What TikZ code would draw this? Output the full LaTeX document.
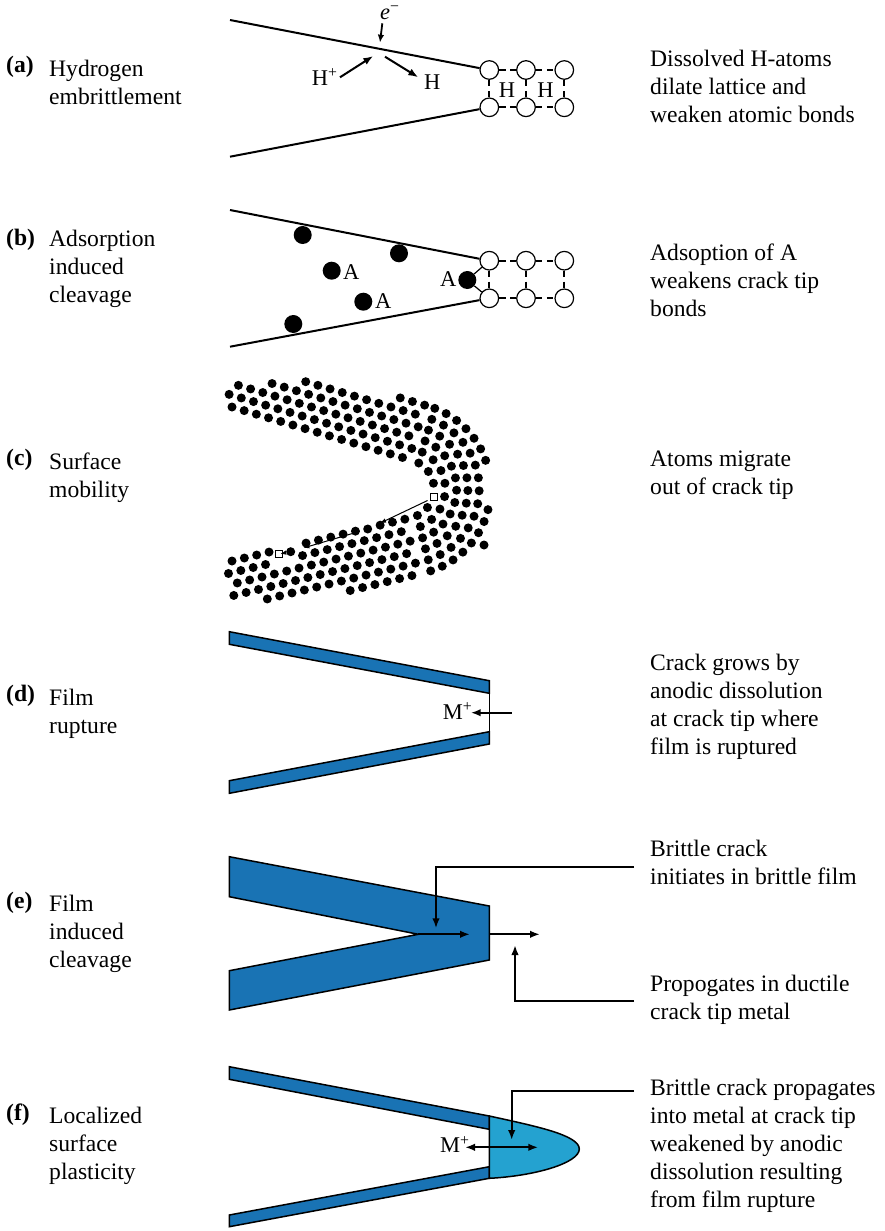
\documentclass[tikz,border=0pt]{standalone}
\usepackage{fontspec}
\setmainfont{Liberation Serif}
\usetikzlibrary{arrows.meta}
\definecolor{filmblue}{RGB}{25,115,180}
\definecolor{zoneblue}{RGB}{36,162,208}
% left-aligned block of lines whose reference point is the first baseline
\newcommand{\txtblock}[1]{\begin{tabular}[t]{@{}l@{}}#1\end{tabular}}
% one atom of the lattice, kept only inside the metal band and away from the marked sites
\newcommand{\placeatom}[2]{%
  \pgfmathsetmacro\atomok{(inband(#1,#2)>=0)*(veclen(#1-434.3,#2-497.3)>8)*(veclen(#1-367.7,#2-529)>9)*(veclen(#1-290.7,#2-551.7)>8)*(veclen(#1-279.3,#2-554)>8)}%
  \ifdim\atomok pt>0.5pt\relax \fill (#1,#2) circle[radius=4.5pt];\fi}
\begin{document}
\begin{tikzpicture}[x=1pt,y=-1pt,
  every node/.style={inner sep=0pt},
  body/.style={font=\fontsize{23.6}{28}\selectfont, anchor=base west},
  tag/.style={font=\fontsize{23.6}{28}\selectfont\bfseries, anchor=base west},
  lbl/.style={font=\fontsize{22.5}{27}\selectfont, anchor=base west},
  crack/.style={line width=2pt},
  lattice/.style={circle, draw, line width=1.2pt, fill=white, minimum size=18.6pt},
  bond/.style={line width=2pt, dash pattern=on 6.5pt off 4.5pt},
  adsorbate/.style={circle, fill=black, minimum size=18pt},
  adatom/.style={circle, fill=black, minimum size=9pt},
  vacancy/.style={rectangle, draw, fill=white, line width=1pt, minimum size=7pt},
  arr/.style={line width=2pt, -{Latex[length=10pt,width=7.5pt]}},
  smallarr/.style={line width=1.8pt, -{Latex[length=8pt,width=6.5pt]}},
  thinarr/.style={line width=1pt, -{Latex[length=6pt,width=4.5pt]}},
  film/.style={fill=filmblue, draw=black, line width=1.5pt, line join=miter},
  nose/.style={fill=zoneblue, draw=black, line width=1.5pt},
  declare function={inband(\xx,\yy)=min(
    0.55*(\yy-383)+0.05*(\xx-228),
    1.01*(\yy-378)-0.16*(\xx-283),
    0.52*(\yy-394)-0.10*(\xx-384),
    0.32*(\yy-404)-0.16*(\xx-436),
    0.18*(\yy-420)-0.12*(\xx-468),
    0.03*(\yy-432)-0.28*(\xx-486),
    -0.01*(\yy-460)-0.61*(\xx-489),
    -0.02*(\yy-521)-0.27*(\xx-488),
    -0.18*(\yy-548)-0.12*(\xx-486),
    -0.31*(\yy-560)-0.15*(\xx-468),
    -0.52*(\yy-575)-0.10*(\xx-437),
    -1.02*(\yy-585)-0.17*(\xx-385),
    -0.55*(\yy-602)+0.04*(\xx-283),
    2.15*(\xx-228));}
]
\useasboundingbox (0,0) rectangle (884,1231);

% ---------------- (a) Hydrogen embrittlement ----------------
\node[tag] (tagA) at (6,72) {(a)};
\node[body] (nameA) at (49,76.7) {\txtblock{Hydrogen\\embrittlement}};
\node[body] (noteA) at (650,66.7) {\txtblock{Dissolved H-atoms\\dilate lattice and\\weaken atomic bonds}};
\node[lattice] (a1) at (489.3,70) {};
\node[lattice] (a2) at (526,70) {};
\node[lattice] (a3) at (564.3,70) {};
\node[lattice] (a4) at (489.3,107.3) {};
\node[lattice] (a5) at (526,107.3) {};
\node[lattice] (a6) at (564.3,107.3) {};
\coordinate (aUpper) at (230,20);
\coordinate (aLower) at (230,156.7);
\draw[crack] (aUpper) -- (a1);
\draw[crack] (aLower) -- (a4);
\foreach \p/\q in {a1/a2,a2/a3,a4/a5,a5/a6,a1/a4,a2/a5,a3/a6}
  \draw[bond] (\p) -- (\q);
\node[lbl, anchor=base] (hInA) at (507,97.3) {H};
\node[lbl, anchor=base] (hInB) at (545.5,97.3) {H};
\node[lbl] (eMinus) at (380,19.5) {\textit{e}\textsuperscript{\char"2212}};
\node[lbl] (hIon) at (311.7,85) {H\textsuperscript{+}};
\node[lbl] (hAtom) at (424,89.3) {H};
\coordinate (eTail) at (382.3,23.3);
\coordinate (eHead) at (380,42.7);
\coordinate (hpTail) at (340,77.3);
\coordinate (hpHead) at (373.3,56);
\coordinate (hTail) at (385,56.7);
\coordinate (hHead) at (418.3,77.3);
\draw[smallarr] (eTail) -- (eHead);
\draw[arr] (hpTail) -- (hpHead);
\draw[arr] (hTail) -- (hHead);

% ---------------- (b) Adsorption induced cleavage ----------------
\node[tag] (tagB) at (6,245) {(b)};
\node[body] (nameB) at (49,246.7) {\txtblock{Adsorption\\induced\\cleavage}};
\node[body] (noteB) at (650,260) {\txtblock{Adsoption of A\\weakens crack tip\\bonds}};
\node[lattice] (b1) at (489.3,260.7) {};
\node[lattice] (b2) at (526,260.7) {};
\node[lattice] (b3) at (564.3,260.7) {};
\node[lattice] (b4) at (489.3,298.3) {};
\node[lattice] (b5) at (526,298.3) {};
\node[lattice] (b6) at (564.3,298.3) {};
\coordinate (bUpper) at (230,210);
\coordinate (bLower) at (230,346.7);
\draw[crack] (bUpper) -- (b1);
\draw[crack] (bLower) -- (b4);
\foreach \p/\q in {b1/b2,b2/b3,b4/b5,b5/b6,b1/b4,b2/b5,b3/b6}
  \draw[bond] (\p) -- (\q);
\node[adsorbate] (p1) at (302.7,235) {};
\node[adsorbate] (p2) at (399,253.3) {};
\node[adsorbate] (p3) at (331.7,270.7) {};
\node[adsorbate] (p4) at (363.3,301.7) {};
\node[adsorbate] (p5) at (293.3,324) {};
\node[adsorbate] (p6) at (467.3,280) {};
\draw[line width=1.2pt] (p6) -- (b1);
\draw[line width=1.2pt] (p6) -- (b4);
\node[lbl] (adsA) at (343,279.3) {A};
\node[lbl] (adsB) at (375,308.3) {A};
\node[lbl] (adsC) at (440,286.7) {A};

% ---------------- (c) Surface mobility ----------------
\node[tag] (tagC) at (6,465.5) {(c)};
\node[body] (nameC) at (49,469.3) {\txtblock{Surface\\mobility}};
\node[body] (noteC) at (650,466.7) {\txtblock{Atoms migrate\\out of crack tip}};
% upper flank of the crack
\foreach \k in {0,...,6}{
  \foreach \i in {-2,...,15}{
    \pgfmathsetmacro\sa{\i*12.7+mod(\k,2)*6.35}
    \pgfmathsetmacro\inarm{\sa<=184.6}
    \ifdim\inarm pt>0.5pt\relax
      \pgfmathsetmacro\ax{232+\sa*0.9588+\k*11.3*0.284}
      \pgfmathsetmacro\ay{407+\sa*0.284-\k*11.3*0.9588}
      \placeatom{\ax}{\ay}
    \fi
  }
}
% lower flank of the crack
\foreach \k in {0,...,6}{
  \foreach \i in {-2,...,15}{
    \pgfmathsetmacro\sa{\i*12.7+mod(\k,2)*6.35}
    \pgfmathsetmacro\inarm{\sa<=180.5}
    \ifdim\inarm pt>0.5pt\relax
      \pgfmathsetmacro\ax{232+\sa*0.972+\k*11.3*0.2351}
      \pgfmathsetmacro\ay{561-\sa*0.2351+\k*11.3*0.972}
      \placeatom{\ax}{\ay}
    \fi
  }
}
% rounded crack tip
\foreach \k in {0,...,6}{
  \pgfmathsetmacro\rr{29.6+11.3*\k}
  \pgfmathtruncatemacro\nn{round(\rr*2.616/12.7)}
  \foreach \j in {1,...,\nn}{
    \pgfmathsetmacro\ph{-73.5+(\j-0.5)*149.9/\nn}
    \pgfmathsetmacro\ax{404.4+\rr*cos(\ph)}
    \pgfmathsetmacro\ay{488.9+\rr*sin(\ph)}
    \placeatom{\ax}{\ay}
  }
}
\node[vacancy] (vacTip) at (434.3,497.3) {};
\node[adatom] (mover) at (367.7,529) {};
\node[adatom] (hopper) at (290.7,551.7) {};
\node[vacancy] (vacFlank) at (279.3,554) {};
\draw[thinarr, shorten <=3pt, shorten >=9pt] (vacTip) -- (mover);
\draw[thinarr, shorten <=3.5pt, shorten >=8.5pt] (mover) -- (hopper);
\draw[thinarr, shorten >=1pt] (hopper) -- (vacFlank.center);

% ---------------- (d) Film rupture ----------------
\node[tag] (tagD) at (6,701.5) {(d)};
\node[body] (nameD) at (49,705) {\txtblock{Film\\rupture}};
\node[body] (noteD) at (650,670) {\txtblock{Crack grows by\\anodic dissolution\\at crack tip where\\film is ruptured}};
\filldraw[film] (229.3,631.7) -- (489.3,680.7) -- (489.3,693.3) -- (229.3,644.3) -- cycle;
\filldraw[film] (489.3,731.7) -- (489.3,744) -- (229.3,793.3) -- (229.3,780.7) -- cycle;
\draw[line width=1.5pt] (489.3,680.7) -- (489.3,744);
\node[lbl] (ionD) at (442.7,719.3) {M\textsuperscript{+}};
\coordinate (dTail) at (511.7,712.7);
\coordinate (dHead) at (470.7,712.7);
\draw[arr] (dTail) -- (dHead);

% ---------------- (e) Film induced cleavage ----------------
\node[tag] (tagE) at (6,908) {(e)};
\node[body] (nameE) at (49,911.5) {\txtblock{Film\\induced\\cleavage}};
\node[body] (noteE1) at (650,856.7) {\txtblock{Brittle crack\\initiates in brittle film}};
\node[body] (noteE2) at (650,991.7) {\txtblock{Propogates in ductile\\crack tip metal}};
\filldraw[film] (229.3,856.7) -- (489.3,906) -- (489.3,960) -- (229.3,1010) -- (229.3,970.7)
  -- (418.3,934.3) -- (229.3,896.7) -- cycle;
\coordinate (apex) at (418.3,934.3);
\coordinate (apexHead) at (470,934.3);
\coordinate (frontFace) at (489.3,934.3);
\coordinate (frontHead) at (540,934.3);
\draw[arr] (apex) -- (apexHead);
\draw[arr] (frontFace) -- (frontHead);
\coordinate (calE1) at (634,866.7);
\coordinate (calE1end) at (436,928.3);
\coordinate (calE2) at (634,1000.7);
\coordinate (calE2end) at (515,945);
\draw[arr] (calE1) -| (calE1end);
\draw[arr] (calE2) -| (calE2end);

% ---------------- (f) Localized surface plasticity ----------------
\node[tag] (tagF) at (6,1120) {(f)};
\node[body] (nameF) at (49,1123.5) {\txtblock{Localized\\surface\\plasticity}};
\node[body] (noteF) at (650,1095) {\txtblock{Brittle crack propagates\\into metal at crack tip\\weakened by anodic\\dissolution resulting\\from film rupture}};
\filldraw[film] (229.3,1066.7) -- (489.3,1116) -- (489.3,1129.3) -- (229.3,1079.3) -- cycle;
\filldraw[film] (489.3,1166.7) -- (489.3,1178.3) -- (229.3,1226.7) -- (229.3,1215) -- cycle;
\filldraw[nose] (489.3,1116) .. controls (535,1126) and (579.3,1135) .. (579.3,1149)
  .. controls (579.3,1163) and (535,1176) .. (489.3,1178.3) -- cycle;
\node[lbl] (ionF) at (440,1152.7) {M\textsuperscript{+}};
\coordinate (fLeft) at (465,1147.3);
\coordinate (fRight) at (538.3,1147.3);
\draw[line width=2pt, {Latex[length=10pt,width=7.5pt]}-{Latex[length=10pt,width=7.5pt]}] (fLeft) -- (fRight);
\coordinate (calF) at (634,1090.7);
\coordinate (calFend) at (511.7,1140);
\draw[arr] (calF) -| (calFend);
\end{tikzpicture}
\end{document}
